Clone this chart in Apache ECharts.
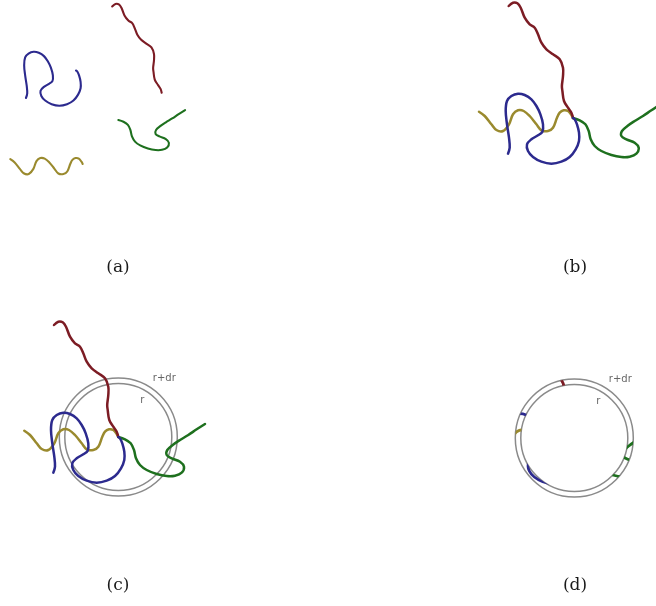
<!DOCTYPE html>
<html>
<head>
<meta charset="utf-8">
<script src="https://cdn.jsdelivr.net/npm/echarts@6/dist/echarts.min.js"></script>
<style>
  html, body { margin: 0; padding: 0; background: #fff; }
  #chart { width: 656px; height: 606px; }
</style>
</head>
<body>
<div id="chart"></div>
<script>
// Four chain fragments, in units relative to the shared end point where they meet.
const redChain = [
  [-64.3, -112], [-60, -115.3], [-55.6, -114.7], [-52.3, -110.3], [-48.3, -100.3],
  [-43.3, -93.7], [-38.3, -90.3], [-35, -83.7], [-31.6, -75.3], [-26.6, -68.7],
  [-20, -63.7], [-13.3, -58.7], [-10, -50.3], [-10, -42], [-11.1, -32],
  [-10.6, -27], [-9, -17], [-5, -10.3], [-1.6, -5.3], [0, 0]
];
const blueChain = [
  [-65, 35.7], [-63.3, 29.7], [-64, 19.7], [-66, 6.3], [-67.3, -7],
  [-66, -17], [-61.6, -22], [-55, -24.3], [-48.3, -23], [-41.6, -18.7],
  [-36.6, -12], [-32.6, -3.7], [-30, 6.3], [-30.6, 13.7], [-35, 17.3],
  [-41.6, 21.3], [-46, 26.3], [-45, 33], [-40, 39], [-31.6, 43.7],
  [-21.6, 45.7], [-11.6, 43.7], [-3.3, 39], [2.7, 31.3], [6, 23],
  [6, 14.7], [4, 6.3], [1.7, 1.3], [0, 0]
];
const yellowChain = [
  [-94, -6.3], [-88.3, -2], [-81.6, 6.3], [-76.6, 12], [-70, 13],
  [-64, 6.3], [-60, -3.7], [-55, -7.7], [-49.3, -7], [-43.3, -2],
  [-36.6, 6.3], [-31.6, 12.3], [-25, 13], [-20, 9.7], [-16, -0.3],
  [-13.3, -5.3], [-9.3, -7.7], [-5, -7], [-1.6, -3], [0, 0]
];
const greenChain = [
  [0, 0], [6.7, 2.3], [12.4, 6.3], [15.7, 13], [17.7, 21.3],
  [21.7, 28], [28.4, 33], [38.4, 37], [48.4, 39], [56.7, 38.7],
  [63.4, 35.7], [65.7, 29.7], [61.7, 24.7], [53.4, 21.3], [48.4, 18],
  [49, 13], [54.4, 8], [61.7, 3], [70, -2], [78.4, -7.7], [86.7, -13]
];

// Spherical shell around the junction: inner radius r and outer radius r + dr.
const shellInner = 53.5;
const shellOuter = 59;
const shellLabels = ['r+dr', 'r'];
const panelLabels = ['(a)', '(b)', '(c)', '(d)'];

const chains = [
  { data: yellowChain, color: '#9a8a2e', loose: [-22.5, 96.1] },
  { data: greenChain,  color: '#1e701e', loose: [23.8, 39] },
  { data: redChain,    color: '#7c1c24', loose: [80.1, 3.5] },
  { data: blueChain,   color: '#2c2a8e', loose: [-31.2, -25.3] }
];

// Each panel: pixel box of its grid, pixel where the local origin sits, and pixels per unit.
const panels = [
  { box: [0, 0, 328, 250],     origin: [100, 90],      scale: 0.77 },
  { box: [328, 0, 328, 250],   origin: [573, 118],     scale: 1 },
  { box: [0, 300, 328, 250],   origin: [118.3, 437],   scale: 1 },
  { box: [328, 300, 328, 250], origin: [574.3, 438],   scale: 1 }
];

const grid = panels.map(p => ({
  left: p.box[0], top: p.box[1], width: p.box[2], height: p.box[3],
  containLabel: false, outerBoundsMode: 'none'
}));
const xAxis = panels.map((p, i) => ({
  type: 'value', gridIndex: i, show: false,
  min: (p.box[0] - p.origin[0]) / p.scale,
  max: (p.box[0] + p.box[2] - p.origin[0]) / p.scale
}));
const yAxis = panels.map((p, i) => ({
  type: 'value', gridIndex: i, show: false, inverse: true,
  min: (p.box[1] - p.origin[1]) / p.scale,
  max: (p.box[1] + p.box[3] - p.origin[1]) / p.scale
}));

// A chain drawn as a smoothed polyline; an optional ring clip keeps only the part inside the shell.
function chainSeries(points, color, width, panel, shellOnly) {
  return {
    type: 'custom', xAxisIndex: panel, yAxisIndex: panel,
    coordinateSystem: 'cartesian2d', data: [[0, 0]], silent: true, z: 3,
    renderItem: function (params, api) {
      const el = {
        type: 'polyline',
        shape: { points: points.map(p => api.coord(p)), smooth: 0.35 },
        style: { fill: null, stroke: color, lineWidth: width, lineCap: 'round', lineJoin: 'round' }
      };
      if (shellOnly) {
        const c = api.coord([0, 0]);
        el.clipPath = {
          type: 'ring',
          shape: { cx: c[0], cy: c[1],
                   r: api.size([shellOuter, 0])[0], r0: api.size([shellInner, 0])[0] }
        };
      }
      return el;
    }
  };
}

function shellSeries(panel) {
  return {
    type: 'custom', xAxisIndex: panel, yAxisIndex: panel,
    coordinateSystem: 'cartesian2d', data: [[0, 0]], silent: true, z: 2,
    renderItem: function (params, api) {
      const c = api.coord([0, 0]);
      const rIn = api.size([shellInner, 0])[0];
      const rOut = api.size([shellOuter, 0])[0];
      const outerTag = api.coord([46, -59]);
      const innerTag = api.coord([24, -37]);
      const ring = { fill: null, stroke: '#8a8a8a', lineWidth: 1.5 };
      const tag = { fill: '#666', fontSize: 10, fontFamily: 'DejaVu Sans',
                    align: 'center', verticalAlign: 'middle' };
      return {
        type: 'group',
        children: [
          { type: 'circle', shape: { cx: c[0], cy: c[1], r: rOut }, style: ring },
          { type: 'circle', shape: { cx: c[0], cy: c[1], r: rIn }, style: ring },
          { type: 'text', x: outerTag[0], y: outerTag[1],
            style: Object.assign({ text: shellLabels[0] }, tag) },
          { type: 'text', x: innerTag[0], y: innerTag[1],
            style: Object.assign({ text: shellLabels[1] }, tag) }
        ]
      };
    }
  };
}

const series = [shellSeries(2), shellSeries(3)];
chains.forEach(ch => {
  series.push(chainSeries(ch.data.map(p => [p[0] + ch.loose[0], p[1] + ch.loose[1]]), ch.color, 2.1, 0, false));
  series.push(chainSeries(ch.data, ch.color, 2.5, 1, false));
  series.push(chainSeries(ch.data, ch.color, 2.5, 2, false));
  series.push(chainSeries(ch.data, ch.color, 2.8, 3, true));
});

const labelSpots = [[118, 268], [575, 268], [118, 586], [575, 586]];
const graphic = panelLabels.map((t, i) => ({
  type: 'text', x: labelSpots[i][0], y: labelSpots[i][1], silent: true,
  style: { text: t, fill: '#1a1a1a', fontSize: 17, fontFamily: 'DejaVu Serif',
           align: 'center', verticalAlign: 'middle' }
}));

const chart = echarts.init(document.getElementById('chart'), null, { renderer: 'canvas' });
chart.setOption({
  animation: false,
  backgroundColor: '#fff',
  grid: grid, xAxis: xAxis, yAxis: yAxis,
  series: series,
  graphic: graphic
});
</script>
</body>
</html>
